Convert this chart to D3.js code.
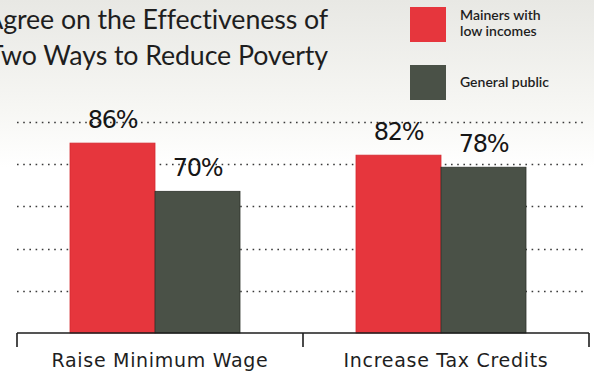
<!DOCTYPE html>
<html>
<head>
<meta charset="utf-8">
<script src="https://cdn.jsdelivr.net/npm/d3@7/dist/d3.min.js"></script>
<style>
  html, body { margin: 0; padding: 0; background: #fff; }
  svg { display: block; }
</style>
</head>
<body>
<svg id="chart" width="594" height="372"></svg>
<script>
// Survey results: share who agree each measure would reduce poverty
const categories = ["Raise Minimum Wage", "Increase Tax Credits"];
const seriesNames = ["Mainers with low incomes", "General public"];
const lowIncomeValues = [86, 82];
const publicValues = [70, 78];
const titleLines = ["Agree on the Effectiveness of", "Two Ways to Reduce Poverty"];
const legendLabels = [["Mainers with", "low incomes"], ["General public"]];

const W = 594, H = 372;
const colors = ["#e6363d", "#4a5147"];
const svg = d3.select("#chart");

// Paper-toned background, slightly grey at the top
const defs = svg.append("defs");
const grad = defs.append("linearGradient").attr("id", "bg").attr("x1", 0).attr("y1", 0).attr("x2", 0).attr("y2", 1);
grad.append("stop").attr("offset", "0%").attr("stop-color", "#e8e8e4");
grad.append("stop").attr("offset", "30%").attr("stop-color", "#f7f7f4");
grad.append("stop").attr("offset", "45%").attr("stop-color", "#ffffff");
grad.append("stop").attr("offset", "100%").attr("stop-color", "#ffffff");
svg.append("rect").attr("width", W).attr("height", H).attr("fill", "url(#bg)");

const rows = categories.map((c, i) => ({ category: c, values: [lowIncomeValues[i], publicValues[i]] }));

// Scales
const axisY = 333;
const x0 = d3.scaleBand().domain(categories).range([17, 589]).padding(0);
const x1 = d3.scaleBand().domain(seriesNames).range([53, 223]).padding(0);
const y = d3.scaleLinear().domain([23, 93]).range([axisY, 122]);

// Dotted gridlines
const gridValues = d3.range(1, 6).map(i => y.domain()[0] + i * (y.domain()[1] - y.domain()[0]) / 5);
svg.append("g").selectAll("line").data(gridValues).join("line")
  .attr("x1", 17).attr("x2", 586)
  .attr("y1", d => Math.round(y(d)) + 0.5).attr("y2", d => Math.round(y(d)) + 0.5)
  .attr("stroke", "#3a3a3a").attr("stroke-width", 1.6)
  .attr("stroke-dasharray", "1.6,4.6");

// Bars
const groups = svg.append("g").selectAll("g").data(rows).join("g")
  .attr("transform", d => `translate(${x0(d.category)},0)`);
groups.selectAll("rect").data(d => d.values.map((v, j) => ({ v, j }))).join("rect")
  .attr("x", d => x1(seriesNames[d.j]))
  .attr("width", x1.bandwidth())
  .attr("y", d => y(d.v))
  .attr("height", d => axisY - y(d.v))
  .attr("fill", d => colors[d.j])
  .attr("stroke", d => d.j === 1 ? "#2e332c" : "#d42a31")
  .attr("stroke-width", 0.8);

// Value labels
groups.selectAll("text").data(d => d.values.map((v, j) => ({ v, j }))).join("text")
  .attr("x", d => x1(seriesNames[d.j]) + x1.bandwidth() / 2)
  .attr("y", d => y(d.v) - 15)
  .attr("text-anchor", "middle")
  .attr("font-family", "'DejaVu Sans', sans-serif")
  .attr("font-size", 24)
  .attr("letter-spacing", -1.2)
  .attr("fill", "#161616")
  .text(d => d.v + "%");

// Bracket-style category axis
const edges = [x0.range()[0], ...categories.map(c => x0(c) + x0.bandwidth())];
const axisPath = d3.path();
axisPath.moveTo(edges[0], axisY);
axisPath.lineTo(edges[edges.length - 1], axisY);
edges.forEach(e => { axisPath.moveTo(e, axisY); axisPath.lineTo(e, axisY + 14); });
svg.append("path").attr("d", axisPath.toString())
  .attr("stroke", "#1e1e1e").attr("stroke-width", 1.6).attr("fill", "none");

svg.append("g").selectAll("text").data(categories).join("text")
  .attr("x", d => x0(d) + x0.bandwidth() / 2)
  .attr("y", 367)
  .attr("text-anchor", "middle")
  .attr("font-family", "'DejaVu Sans', sans-serif")
  .attr("font-size", 19)
  .attr("letter-spacing", 0.7)
  .attr("fill", "#1e1e1e")
  .text(d => d);

// Title (right-aligned, runs off the left edge)
svg.append("g").selectAll("text").data(titleLines).join("text")
  .attr("x", 328)
  .attr("y", (d, i) => 29 + i * 36)
  .attr("text-anchor", "end")
  .attr("font-family", "Lato, sans-serif")
  .attr("font-size", 26.75)
  .attr("letter-spacing", -0.1)
  .attr("fill", "#1e1e1e")
  .text(d => d);

// Legend
const legend = svg.append("g").selectAll("g").data(seriesNames).join("g")
  .attr("transform", (d, i) => `translate(410,${7 + i * 58})`);
legend.append("rect").attr("width", 36).attr("height", 35)
  .attr("fill", (d, i) => colors[i]);
legend.each(function (d, i) {
  const lines = legendLabels[i];
  const g = d3.select(this);
  lines.forEach((t, k) => {
    g.append("text")
      .attr("x", 50)
      .attr("y", lines.length === 1 ? 22 : 13 + k * 16)
      .attr("font-family", "Lato, sans-serif")
      .attr("font-weight", 600)
      .attr("font-size", 14)
      .attr("fill", "#1e1e1e")
      .text(t);
  });
});
</script>
</body>
</html>
